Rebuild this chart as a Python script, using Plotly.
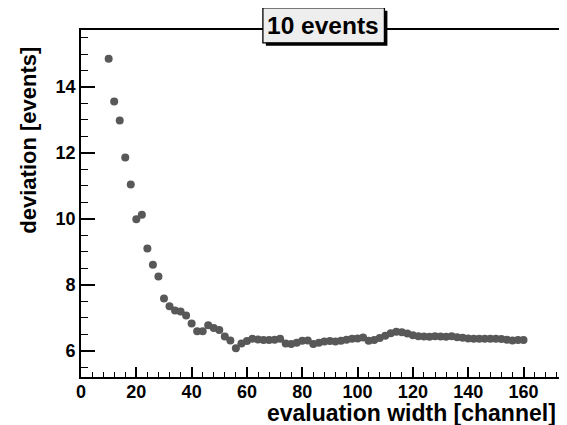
import plotly.graph_objects as go

width_channel = list(range(10, 161, 2))
deviation = [
    14.86, 13.56, 12.98, 11.86, 11.04, 9.99, 10.12, 9.10, 8.61, 8.25,
    7.58, 7.35, 7.22, 7.19, 7.07, 6.82, 6.59, 6.59, 6.77, 6.69,
    6.63, 6.43, 6.31, 6.07, 6.22, 6.29, 6.36, 6.34, 6.32, 6.32,
    6.33, 6.36, 6.22, 6.20, 6.24, 6.30, 6.31, 6.20, 6.24, 6.28,
    6.29, 6.28, 6.30, 6.33, 6.36, 6.37, 6.40, 6.30, 6.32, 6.38,
    6.45, 6.53, 6.57, 6.56, 6.52, 6.47, 6.44, 6.43, 6.42, 6.44,
    6.43, 6.42, 6.44, 6.41, 6.39, 6.37, 6.36, 6.36, 6.36, 6.36,
    6.36, 6.35, 6.33, 6.31, 6.32, 6.32,
]
title_text = "10 events"
x_title = "evaluation width [channel]"
y_title = "deviation [events]"

FONT = "Liberation Sans, Arial, Helvetica, sans-serif"

fig = go.Figure()
fig.add_trace(go.Scatter(
    x=width_channel, y=deviation, mode="markers",
    marker=dict(color="#585858", size=8, line=dict(width=0)),
    showlegend=False,
))

# page body has an 8px margin: the figure starts at (8, 8) on the page
OFF = 8
W, H = 567 - OFF, 425 - OFF
L, R, T, B = 80.7 - OFF, 565.0 - OFF, 29.5 - OFF, 377.0 - OFF
pw, ph = R - L, B - T

def px(x):
    return (x - OFF - L) / pw

def py(y):
    return (B - (y - OFF)) / ph

fig.update_layout(
    width=W, height=H,
    margin=dict(l=L, r=W - R, t=T, b=H - B, pad=0, autoexpand=False),
    paper_bgcolor="white", plot_bgcolor="white",
    font=dict(family=FONT, color="black"),
)
fig.update_xaxes(
    range=[0, 175], dtick=20, tick0=0, automargin=False,
    ticks="inside", ticklen=10, tickwidth=1.5, tickcolor="black",
    minor=dict(dtick=4, ticks="inside", ticklen=5, tickwidth=1.3, tickcolor="black"),
    showline=True, linecolor="black", linewidth=1.8, mirror=True,
    showgrid=False, zeroline=False, ticklabelstandoff=-3,
    tickfont=dict(size=18, family=FONT, weight="bold"),
)
fig.update_yaxes(
    range=[5.2, 15.73], dtick=2, tick0=0, automargin=False,
    ticks="inside", ticklen=14, tickwidth=1.5, tickcolor="black",
    minor=dict(dtick=0.5, ticks="inside", ticklen=7, tickwidth=1.3, tickcolor="black"),
    showline=True, linecolor="black", linewidth=1.8, mirror=True,
    showgrid=False, zeroline=False,
    tickfont=dict(size=18, family=FONT, weight="bold"),
)

# title box with shadow
fig.add_shape(type="rect", xref="paper", yref="paper", layer="above",
              x0=px(265.7), x1=px(387.3), y0=py(45.3), y1=py(10.3),
              fillcolor="black", line=dict(width=0))
fig.add_shape(type="rect", xref="paper", yref="paper", layer="above",
              x0=px(262.7), x1=px(384.3), y0=py(42.3), y1=py(7.3),
              fillcolor="#eeeeee", line=dict(color="black", width=1.3))
fig.add_annotation(text=title_text, xref="paper", yref="paper",
                   x=px(322.5), y=py(25), showarrow=False,
                   font=dict(size=24.5, family=FONT, weight="bold", color="black"),
                   xanchor="center", yanchor="middle")

# axis titles
fig.add_annotation(text=x_title, xref="paper", yref="paper",
                   x=px(558), y=py(413), showarrow=False,
                   xanchor="right", yanchor="middle",
                   font=dict(size=23, family=FONT, weight="bold"))
fig.add_annotation(text=y_title, xref="paper", yref="paper",
                   x=px(28), y=py(140), showarrow=False, textangle=-90,
                   xanchor="center", yanchor="middle",
                   font=dict(size=22, family=FONT, weight="bold"))

fig.write_html("out.html")
